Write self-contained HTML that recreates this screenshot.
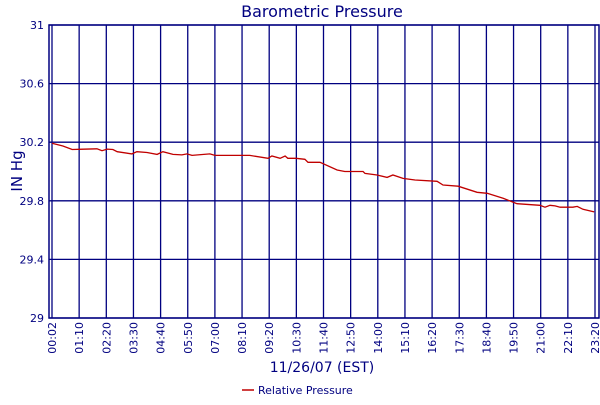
<!DOCTYPE html>
<html><head><meta charset="utf-8"><style>
body{margin:0;background:#fff}
svg text{font-family:"DejaVu Sans","Liberation Sans",sans-serif;fill:#000080}
</style></head><body>
<svg id="c" width="600" height="400">
<text x="322" y="17" text-anchor="middle" font-size="16">Barometric Pressure</text>
<text transform="translate(22,171) rotate(-90)" text-anchor="middle" font-size="15">IN Hg</text>
<text x="322" y="372" text-anchor="middle" font-size="14">11/26/07 (EST)</text>
<g>
<line x1="242" y1="390" x2="254" y2="390" stroke="#c00000" stroke-width="1.5"></line>
<text x="258" y="394" font-size="11">Relative Pressure</text>
</g>
<g id="grid"></g><g id="ticks"></g><g id="series"></g>
</svg>
<script>
const xTickLabels=["00:02","01:10","02:20","03:30","04:40","05:50","07:00","08:10","09:20","10:30","11:40","12:50","14:00","15:10","16:20","17:30","18:40","19:50","21:00","22:10","23:20"];
const yTickLabels=["29","29.4","29.8","30.2","30.6","31"];
const yTicks=[29,29.4,29.8,30.2,30.6,31];
const times=[2,30,54,82,118,131,144,159,170,208,221,247,273,288,314,337,350,363,409,422,512,559,569,590,603,610,631,654,662,693,737,757,804,809,840,866,881,907,938,995,1010,1049,1098,1124,1165,1201,1260,1273,1286,1299,1312,1345,1356,1371,1400];
const pressure=[30.193,30.174,30.15,30.152,30.155,30.142,30.153,30.15,30.135,30.12,30.135,30.13,30.117,30.135,30.117,30.113,30.12,30.11,30.12,30.11,30.11,30.09,30.106,30.09,30.106,30.09,30.09,30.083,30.063,30.063,30.01,30.0,30.0,29.987,29.976,29.96,29.976,29.953,29.942,29.933,29.908,29.90,29.858,29.851,29.817,29.78,29.769,29.756,29.769,29.765,29.756,29.756,29.762,29.742,29.724];
const L=49,R=599,T=25,B=318,X0=52,X1=595;
const NS="http://www.w3.org/2000/svg";
function xs(m){return X0+(m-2)/1400*(X1-X0);}
function ys(v){return B-(v-29)/2*(B-T);}
function mk(t,a,p){const e=document.createElementNS(NS,t);for(const k in a)e.setAttribute(k,a[k]);p.appendChild(e);return e;}
const g=document.getElementById('grid'),tk=document.getElementById('ticks'),s=document.getElementById('series');
const frame=mk('rect',{x:L,y:T,width:R-L,height:B-T,fill:'none',stroke:'#000080','stroke-width':1.5},g);


yTicks.forEach((v,i)=>{
 const y=ys(v);
 const ln=mk('line',{x1:L,x2:R,y1:y,y2:y,stroke:'#000080','stroke-width':1.3},g);
 
 
 const t=mk('text',{x:44,y:y+4,'text-anchor':'end','font-size':11},tk);
 t.textContent=yTickLabels[i];
 
 
});
xTickLabels.forEach((lab,i)=>{
 const x=xs(2+i*70);
 const ln=mk('line',{x1:x,x2:x,y1:T,y2:B,stroke:'#000080','stroke-width':1.3},g);
 
 
 const t=mk('text',{transform:`translate(${x+4},${B+4}) rotate(-90)`,'text-anchor':'end','font-size':11},tk);
 t.textContent=lab;
 
 
});
const pts=times.map((m,i)=>xs(m).toFixed(1)+','+ys(pressure[i]).toFixed(1)).join(' ');
const pl=mk('polyline',{points:pts,fill:'none',stroke:'#c00000','stroke-width':1.3},s);


</script>
</body></html>
